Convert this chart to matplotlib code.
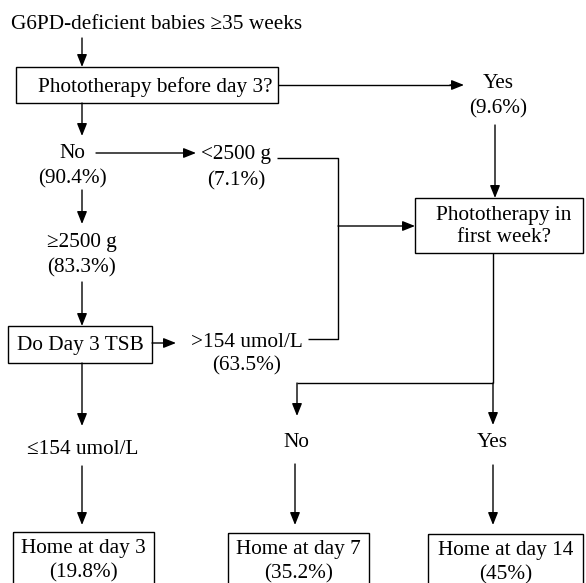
import matplotlib.pyplot as plt
from matplotlib.patches import Rectangle

plt.rcParams['font.family'] = ['Liberation Serif', 'DejaVu Serif']

title = 'G6PD-deficient babies \u226535 weeks'
questions = ['Phototherapy before day 3?', 'Phototherapy in\nfirst week?']
branch_labels = ['Yes', 'No', '<2500 g', '\u22652500 g', '>154 umol/L']
branch_pcts = ['9.6%', '90.4%', '7.1%', '83.3%', '63.5%']
tsb_box = 'Do Day 3 TSB'
low_tsb = '\u2264154 umol/L'
answers = ['No', 'Yes']
outcomes = ['Home at day 3', 'Home at day 7', 'Home at day 14']
outcome_pcts = ['19.8%', '35.2%', '45%']

FS = 15.3
LW = 1.0

fig = plt.figure(figsize=(5.86, 5.83), dpi=100)
ax = fig.add_axes([0, 0, 1, 1])
ax.set_xlim(0, 586)
ax.set_ylim(583, 0)
ax.axis('off')


def txt(x, y, s):
    # va='center' sits a little high for this font, nudge down
    ax.text(x, y + 2.5, s, ha='center', va='center', fontsize=FS, linespacing=1.15)


def box(x0, y0, x1, y1):
    ax.add_patch(Rectangle((x0, y0), x1 - x0, y1 - y0, fill=False,
                           lw=LW, ec='black', clip_on=False))


def arrow(x0, y0, x1, y1):
    ax.annotate('', xy=(x1, y1), xytext=(x0, y0),
                arrowprops=dict(arrowstyle='-|>,head_length=0.5,head_width=0.2',
                                mutation_scale=15, lw=LW, color='black',
                                shrinkA=0, shrinkB=0))


def line(xs, ys):
    ax.plot(xs, ys, color='black', lw=LW, solid_capstyle='butt')


# title and first question
txt(157, 22, title)
arrow(82, 38, 82, 67)
box(16, 67, 278, 103)
txt(155, 85, questions[0])

# yes branch
line([278, 455], [85, 85])
arrow(450, 85, 464, 85)
txt(498, 81, branch_labels[0])
txt(498, 106, '(' + branch_pcts[0] + ')')
arrow(495, 125, 495, 198)

# no branch
arrow(82, 103, 82, 136)
txt(72, 151, branch_labels[1])
txt(72, 176, '(' + branch_pcts[1] + ')')
arrow(96, 153, 196, 153)
txt(236, 152, branch_labels[2])
txt(236, 178, '(' + branch_pcts[2] + ')')
line([277, 338, 338, 308], [158, 158, 339, 339])
arrow(338, 226, 415, 226)

arrow(82, 190, 82, 224)
txt(82, 240, branch_labels[3])
txt(82, 265, '(' + branch_pcts[3] + ')')
arrow(82, 282, 82, 326)

box(8, 326, 152, 363)
txt(80, 343, tsb_box)
arrow(152, 343, 176, 343)
txt(247, 340, branch_labels[4])
txt(247, 363, '(' + branch_pcts[4] + ')')

# second question
box(415, 198, 583, 253)
txt(504, 224, questions[1])
line([493, 493], [253, 383])
line([297, 493], [383, 383])
arrow(297, 383, 297, 416)
arrow(493, 383, 493, 425)
txt(296, 440, answers[0])
txt(492, 440, answers[1])

# low TSB branch
arrow(82, 363, 82, 426)
txt(83, 447, low_tsb)

# outcomes
arrow(82, 466, 82, 525)
arrow(295, 464, 295, 525)
arrow(493, 465, 493, 525)
out_boxes = [(13, 154, 532), (228, 369, 533), (428, 583, 534)]
for (x0, x1, y0), name, pct in zip(out_boxes, outcomes, outcome_pcts):
    box(x0, y0, x1, 600)
    txt((x0 + x1) / 2, y0 + 14, name)
    txt((x0 + x1) / 2, y0 + 38, '(' + pct + ')')

fig.savefig('out.png', dpi=100)
